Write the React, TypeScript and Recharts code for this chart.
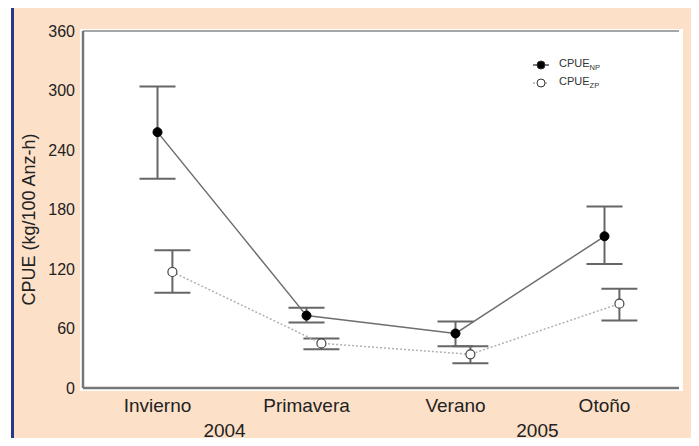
import React from "react";
import { ComposedChart, Line, XAxis, YAxis, ErrorBar, ReferenceLine } from "recharts";

const seasons = ["Invierno", "Primavera", "Verano", "Otoño"];
const years = ["2004", "2005"];
const yTicks = [0, 60, 120, 180, 240, 300, 360];

// CPUE NP (filled) and ZP (open), mean with lower / upper limits
const npMean = [258, 73, 55, 153];
const npLow = [211, 66, 42, 125];
const npHigh = [304, 81, 67, 183];
const zpMean = [117, 45, 34, 85];
const zpLow = [96, 39, 25, 68];
const zpHigh = [139, 50, 42, 100];

const npData = seasons.map((s, i) => ({
  x: i + 0.5,
  y: npMean[i],
  err: [npMean[i] - npLow[i], npHigh[i] - npMean[i]],
}));
const zpData = seasons.map((s, i) => ({
  x: i + 0.6,
  y: zpMean[i],
  err: [zpMean[i] - zpLow[i], zpHigh[i] - zpMean[i]],
}));

const FONT = "'Liberation Sans', Arial, sans-serif";

function LegendBox() {
  const row = (filled: boolean, dashed: boolean, sub: string) => (
    <div style={{ display: "flex", alignItems: "center", height: 18 }}>
      <svg width={20} height={12}>
        <line
          x1={2}
          x2={18}
          y1={6}
          y2={6}
          stroke={dashed ? "#aaa" : "#555"}
          strokeWidth={1.5}
          strokeDasharray={dashed ? "2 2" : undefined}
        />
        <circle cx={10} cy={6} r={4} fill={filled ? "#000" : "#fff"} stroke="#333" strokeWidth={1} />
      </svg>
      <span style={{ marginLeft: 8, fontSize: 11, color: "#333" }}>
        CPUE<sub style={{ fontSize: 7.5 }}>{sub}</sub>
      </span>
    </div>
  );
  return (
    <div style={{ position: "absolute", left: 531, top: 56, fontFamily: FONT }}>
      {row(true, false, "NP")}
      {row(false, true, "ZP")}
    </div>
  );
}

export default function App() {
  return (
    <div style={{ position: "relative", width: 699, height: 446, background: "#fff", margin: -8, fontFamily: FONT }}>
      <div
        style={{
          position: "absolute",
          left: 11,
          top: 4,
          width: 685,
          height: 439,
          background: "#fde0c8",
          borderLeft: "3px solid #263a8a",
          borderTop: "3px solid #263a8a",
        }}
      />
      <div style={{ position: "absolute", left: 80, top: 29, width: 603, height: 362, background: "#fff" }} />
      <div style={{ position: "absolute", left: 0, top: 0 }}>
        <ComposedChart width={699} height={446} margin={{ top: 31, right: 20, left: 0, bottom: 0 }}>
          <XAxis
            dataKey="x"
            type="number"
            domain={[0, 4]}
            allowDataOverflow
            ticks={[0.5, 1.5, 2.5, 3.5]}
            tickFormatter={(v: number) => seasons[Math.floor(v)]}
            height={26}
            tickSize={0}
            tickMargin={11}
            axisLine={{ stroke: "#777", strokeWidth: 2.5 }}
            tick={{ fontSize: 19, fill: "#222", fontFamily: FONT }}
          />
          <XAxis
            xAxisId="yr"
            dataKey="x"
            type="number"
            domain={[0, 4]}
            allowDataOverflow
            ticks={[0.95, 3.05]}
            tickFormatter={(v: number) => years[v < 2 ? 0 : 1]}
            height={32}
            tickSize={0}
            tickMargin={10}
            axisLine={false}
            tick={{ fontSize: 19, fill: "#222", fontFamily: FONT }}
          />
          <YAxis
            domain={[0, 360]}
            ticks={yTicks}
            width={83}
            tickSize={0}
            tickMargin={8}
            axisLine={{ stroke: "#777", strokeWidth: 2.5 }}
            tick={{ fontSize: 16, fill: "#222", fontFamily: FONT }}
            label={{
              value: "CPUE (kg/100 Anz-h)",
              angle: -90,
              position: "center",
              dx: -13,
              dy: 10,
              style: { fontSize: 18, fill: "#222", fontFamily: FONT, textAnchor: "middle" },
            }}
          />
          <YAxis
            yAxisId="right"
            orientation="right"
            domain={[0, 360]}
            allowDataOverflow
            ticks={[90, 180, 270]}
            width={0}
            mirror
            tick={false}
            tickSize={3}
            axisLine={{ stroke: "#888", strokeWidth: 1.5 }}
            tickLine={{ stroke: "#888" }}
          />
          <ReferenceLine y={360} stroke="#888" strokeWidth={1.5} />
          <Line
            data={zpData}
            xAxisId="yr"
            yAxisId="right"
            dataKey="y"
            stroke="#b0b0b0"
            strokeWidth={1.5}
            strokeDasharray="2 2"
            dot={{ r: 4.5, fill: "#fff", stroke: "#444", strokeWidth: 1.2, strokeDasharray: "none" }}
            activeDot={false}
            isAnimationActive={false}
          >
            <ErrorBar dataKey="err" direction="y" width={18} stroke="#666" strokeWidth={2} isAnimationActive={false} />
          </Line>
          <Line
            data={npData}
            dataKey="y"
            stroke="#6e6e6e"
            strokeWidth={1.5}
            dot={{ r: 4.5, fill: "#000", stroke: "#000", strokeWidth: 1 }}
            activeDot={false}
            isAnimationActive={false}
          >
            <ErrorBar dataKey="err" direction="y" width={18} stroke="#666" strokeWidth={2} isAnimationActive={false} />
          </Line>
        </ComposedChart>
      </div>
      <LegendBox />
    </div>
  );
}
